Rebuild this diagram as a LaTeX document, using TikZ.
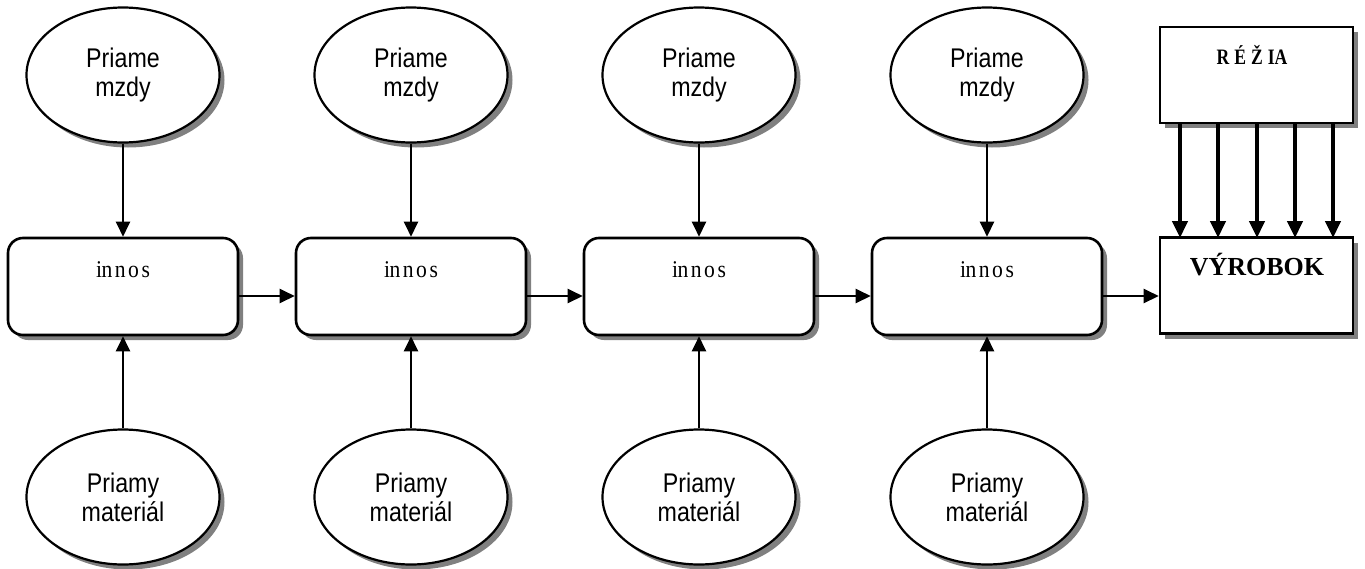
\documentclass[tikz,border=0pt]{standalone}
\usepackage{fontspec}
\setmainfont{Liberation Serif}
\newfontfamily\arialf[FakeStretch=0.86]{Liberation Sans}
\newfontfamily\timesc[FakeStretch=0.8]{Liberation Serif}
\newfontfamily\timesn[FakeStretch=0.9]{Liberation Serif}
\usetikzlibrary{shapes.geometric,arrows.meta}
\begin{document}
\begin{tikzpicture}[x=1pt,y=-1pt,
  shad/.style={preaction={fill=black!50,draw=none,transform canvas={xshift=5pt,yshift=-5pt}}},
  oval/.style={ellipse,draw,line width=2.2pt,fill=white,shad,minimum width=193pt,minimum height=135pt,inner sep=0pt,
     font=\arialf\fontsize{27}{29}\selectfont,align=center},
  stepbox/.style={draw,line width=2.6pt,rounded corners=15pt,fill=white,shad,minimum width=230pt,minimum height=97pt,inner sep=0pt},
  sqbox/.style={draw,line width=2.6pt,fill=white,shad,minimum width=193pt,minimum height=96pt,inner sep=0pt},
  arr/.style={line width=2.4pt,-{Triangle[length=15pt,width=14pt]}},
  thick arr/.style={line width=4.5pt,-{Triangle[length=17pt,width=15pt]}},
  lbl/.style={font=\timesn\fontsize{24}{26}\selectfont,inner sep=0pt}
]
\useasboundingbox (0,0) rectangle (1365,568);
\foreach \i/\cx in {1/123,2/411,3/699,4/987}{
  \node[oval] (t\i) at (\cx,75) {Priame\\mzdy};
  \node[oval] (b\i) at (\cx,497) {Priamy\\materiál};
  \node[stepbox] (s\i) at (\cx,286.5) {};
  \node[lbl] (l\i) at (\cx,270) {i\kern-0.5pt n\kern2.5pt n\kern2.5pt o\kern2.5pt s};
  \draw[arr] (t\i) -- (s\i);
  \draw[arr] (b\i) -- (s\i);
}
\node[sqbox] (r) at (1256.5,75) {};
\node[font=\timesc\bfseries\fontsize{22}{24}\selectfont,inner sep=0pt] (rl) at (1252,55) {R\kern5pt É\kern5pt Ž\kern5pt IA};
\node[sqbox] (v) at (1256.5,285.5) {};
\node[font=\bfseries\fontsize{26}{28}\selectfont,inner sep=0pt] (vl) at (1257,265) {VÝROBOK};
\foreach \a/\b in {s1/s2,s2/s3,s3/s4,s4/v}{
  \draw[arr] (\a.east |- 0,296) -- (\b.west |- 0,296);
}
\foreach \xx in {1180,1218,1257,1295,1333}{
  \draw[thick arr] (\xx,123) -- (\xx,238);
}
\end{tikzpicture}
\end{document}
